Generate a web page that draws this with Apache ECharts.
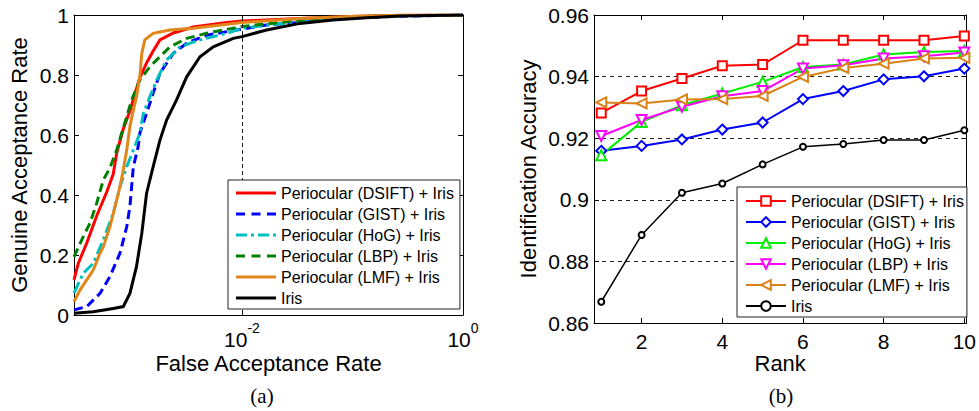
<!DOCTYPE html>
<html>
<head>
<meta charset="utf-8">
<script src="https://cdn.jsdelivr.net/npm/echarts@6/dist/echarts.min.js"></script>
<style>
  html, body { margin: 0; padding: 0; background: #fff; }
  #chart { width: 979px; height: 411px; }
</style>
</head>
<body>
<div id="chart"></div>
<script>
// ---------- (a) ROC curves: [false acceptance rate, genuine acceptance rate] ----------
const rocDSIFT = [
  [3.02e-4, 0.117], [3.30e-4, 0.172], [3.94e-4, 0.24], [4.84e-4, 0.33], [5.97e-4, 0.41],
  [6.84e-4, 0.47], [7.35e-4, 0.54], [8.43e-4, 0.62], [9.68e-4, 0.68], [1.08e-3, 0.74],
  [1.19e-3, 0.79], [1.37e-3, 0.84], [1.57e-3, 0.88], [1.81e-3, 0.917], [2.39e-3, 0.94],
  [3.62e-3, 0.96], [7.28e-3, 0.975], [1.0e-2, 0.98], [3.35e-2, 0.988], [9.49e-2, 0.995],
  [0.269, 0.999], [1, 1]
];
const rocGIST = [
  [3.02e-4, 0.017], [3.94e-4, 0.028], [5.19e-4, 0.072], [6.38e-4, 0.128], [7.87e-4, 0.206],
  [9.06e-4, 0.294], [9.68e-4, 0.361], [1.04e-3, 0.494], [1.15e-3, 0.561], [1.19e-3, 0.606],
  [1.37e-3, 0.672], [1.57e-3, 0.739], [1.81e-3, 0.806], [2.39e-3, 0.872], [3.16e-3, 0.906],
  [4.80e-3, 0.933], [1.0e-2, 0.953], [1.67e-2, 0.967], [3.35e-2, 0.975], [9.49e-2, 0.99],
  [0.269, 0.996], [1, 1]
];
const rocHoG = [
  [3.02e-4, 0.073], [3.66e-4, 0.139], [4.51e-4, 0.172], [5.56e-4, 0.25], [6.84e-4, 0.339],
  [7.87e-4, 0.428], [9.06e-4, 0.494], [1.04e-3, 0.55], [1.19e-3, 0.606], [1.28e-3, 0.672],
  [1.47e-3, 0.728], [1.69e-3, 0.783], [2.08e-3, 0.85], [2.75e-3, 0.894], [4.17e-3, 0.917],
  [7.28e-3, 0.939], [1.0e-2, 0.956], [3.35e-2, 0.978], [9.49e-2, 0.99], [0.269, 0.997], [1, 1]
];
const rocLBP = [
  [3.02e-4, 0.194], [3.66e-4, 0.261], [4.21e-4, 0.306], [4.84e-4, 0.372], [5.56e-4, 0.45],
  [6.38e-4, 0.49], [7.35e-4, 0.55], [8.15e-4, 0.606], [9.06e-4, 0.661], [1.005e-3, 0.717],
  [1.19e-3, 0.783], [1.47e-3, 0.828], [1.81e-3, 0.861], [2.23e-3, 0.894], [3.16e-3, 0.922],
  [4.80e-3, 0.939], [1.0e-2, 0.962], [3.35e-2, 0.982], [9.49e-2, 0.993], [0.269, 0.998], [1, 1]
];
const rocLMF = [
  [3.02e-4, 0.044], [3.42e-4, 0.083], [3.94e-4, 0.117], [4.51e-4, 0.15], [5.19e-4, 0.206],
  [5.56e-4, 0.227], [6.38e-4, 0.294], [7.10e-4, 0.361], [7.87e-4, 0.428], [8.43e-4, 0.483],
  [9.06e-4, 0.55], [9.68e-4, 0.628], [1.04e-3, 0.683], [1.11e-3, 0.728], [1.19e-3, 0.794],
  [1.24e-3, 0.872], [1.32e-3, 0.917], [1.57e-3, 0.939], [2.23e-3, 0.95], [3.62e-3, 0.956],
  [1.0e-2, 0.975], [3.35e-2, 0.988], [9.49e-2, 0.995], [0.269, 0.999], [1, 1]
];
const rocIris = [
  [3.02e-4, 0.006], [4.51e-4, 0.011], [6.84e-4, 0.022], [8.43e-4, 0.028], [9.68e-4, 0.072],
  [1.11e-3, 0.161], [1.24e-3, 0.272], [1.37e-3, 0.406], [1.57e-3, 0.494], [1.81e-3, 0.583],
  [2.08e-3, 0.65], [2.56e-3, 0.717], [3.16e-3, 0.794], [4.17e-3, 0.861], [5.50e-3, 0.894],
  [8.34e-3, 0.922], [1.0e-2, 0.928], [1.67e-2, 0.95], [3.35e-2, 0.972], [6.67e-2, 0.983],
  [0.134, 0.991], [0.269, 0.997], [1, 1]
];

// ---------- (b) CMC curves: identification accuracy per rank ----------
const ranks = [1, 2, 3, 4, 5, 6, 7, 8, 9, 10];
const cmcDSIFT = [0.9282, 0.9353, 0.9394, 0.9435, 0.9439, 0.9518, 0.9518, 0.9518, 0.9518, 0.9532];
const cmcGIST  = [0.9159, 0.9175, 0.9196, 0.9228, 0.9251, 0.9327, 0.9353, 0.9391, 0.9401, 0.9426];
const cmcHoG   = [0.9145, 0.9253, 0.9307, 0.9345, 0.9383, 0.9431, 0.9439, 0.9472, 0.9480, 0.9483];
const cmcLBP   = [0.9207, 0.9259, 0.9302, 0.9336, 0.9353, 0.9426, 0.9437, 0.9459, 0.9466, 0.9478];
const cmcLMF   = [0.9316, 0.9313, 0.9326, 0.9327, 0.9337, 0.9399, 0.9428, 0.9442, 0.9459, 0.9461];
const cmcIris  = [0.8669, 0.8886, 0.9023, 0.9053, 0.9115, 0.9172, 0.9181, 0.9194, 0.9194, 0.9226];

// ---------- labels ----------
const methodNames = [
  'Periocular (DSIFT) + Iris',
  'Periocular (GIST) + Iris',
  'Periocular (HoG) + Iris',
  'Periocular (LBP) + Iris',
  'Periocular (LMF) + Iris',
  'Iris'
];
const rocTicks = [0.01, 1];
const rankTicks = [2, 4, 6, 8, 10];

const FONT = 'Liberation Sans, Arial, Helvetica, sans-serif';
const SERIF = 'Liberation Serif, Times New Roman, serif';
const INK = '#000';

// ROC line styles
const rocColors = ['#ff0000', '#0000ff', '#00bfbf', '#008000', '#e0861a', '#000000'];
const rocDash = ['solid', [9, 5], [12, 4, 3, 4], [9, 5], 'solid', 'solid'];
// legend swatches for the ROC panel (thin bars, dashed where the curve is dashed)
const rocIcons = [
  'path://M0,0H40V3H0Z',
  'path://M0,0h9v3h-9z M15.5,0h9v3h-9z M31,0h9v3h-9z',
  'path://M0,0h11v3h-11z M15,0h3v3h-3z M22,0h11v3h-11z M37,0h3v3h-3z',
  'path://M0,0h9v3h-9z M15.5,0h9v3h-9z M31,0h9v3h-9z',
  'path://M0,0H40V3H0Z',
  'path://M0,0H40V3H0Z'
];

// CMC marker styles
const cmcColors = ['#ff0000', '#0000ff', '#00ee00', '#ff00ff', '#d98218', '#000000'];
const cmcSymbols = ['emptyRect', 'emptyDiamond', 'emptyTriangle', 'emptyTriangle', 'emptyTriangle', 'emptyCircle'];
const cmcRotate = [0, 0, 0, 180, 90, 0];
const cmcSizes = [9, 10, 10, 10, 10, 6];
const cmcWidths = [2, 2, 2, 2, 2, 1.5];

const rocSeriesData = [rocDSIFT, rocGIST, rocHoG, rocLBP, rocLMF, rocIris];
const cmcSeriesData = [cmcDSIFT, cmcGIST, cmcHoG, cmcLBP, cmcLMF, cmcIris];

const CMC_KEY = 'cmc|';
const stripKey = n => n.replace(CMC_KEY, '');

const tickLabel = { color: INK, fontFamily: FONT, fontSize: 21, lineHeight: 21 };
const nameStyle = { fontFamily: FONT, fontSize: 22, color: INK, lineHeight: 22 };

function frameAxis(extra) {
  return Object.assign({
    axisLine: { show: true, onZero: false, lineStyle: { color: INK, width: 1 } },
    axisTick: { show: true, inside: true, length: 5, lineStyle: { color: INK } },
    splitLine: { show: false },
    axisLabel: { show: false },
    nameMoveOverlap: false
  }, extra);
}

const rocSeries = rocSeriesData.map((d, i) => ({
  name: methodNames[i],
  type: 'line',
  xAxisIndex: 0,
  yAxisIndex: 0,
  data: d,
  symbol: 'none',
  showSymbol: false,
  silent: true,
  lineStyle: { color: rocColors[i], width: 3, type: rocDash[i], cap: 'butt', join: 'miter' },
  itemStyle: { color: rocColors[i] },
  markLine: i === 0 ? {
    silent: true,
    symbol: 'none',
    label: { show: false },
    lineStyle: { color: '#222', width: 1, type: [4, 3] },
    data: [{ xAxis: 0.01 }]
  } : undefined,
  z: 2
}));

const cmcSeries = cmcSeriesData.map((d, i) => ({
  name: CMC_KEY + methodNames[i],
  type: 'line',
  xAxisIndex: 2,
  yAxisIndex: 2,
  data: ranks.map((r, k) => [r, d[k]]),
  symbol: cmcSymbols[i],
  symbolSize: cmcSizes[i],
  symbolRotate: cmcRotate[i],
  showAllSymbol: true,
  silent: true,
  lineStyle: { color: cmcColors[i], width: cmcWidths[i] },
  itemStyle: { color: cmcColors[i], borderWidth: 1.5 },
  z: 2
}));

const option = {
  animation: false,
  backgroundColor: '#fff',
  textStyle: { fontFamily: FONT, color: INK },
  grid: [
    { left: 74, top: 15, width: 389, height: 300, containLabel: false },
    { left: 594, top: 15, width: 374, height: 308, containLabel: false }
  ],
  xAxis: [
    frameAxis({
      type: 'log', logBase: 10, gridIndex: 0, position: 'bottom',
      min: 3.02e-4, max: 1,
      axisTick: { show: true, inside: true, length: 5, lineStyle: { color: INK }, customValues: rocTicks },
      axisLabel: {
        show: true, margin: 6, customValues: rocTicks,
        formatter: v => '{b|10}{s|' + Math.round(Math.log10(v)) + '}',
        rich: {
          // base "10" pushed down by its top padding, exponent sits at the top of the line
          b: { fontFamily: FONT, fontSize: 21, color: INK, lineHeight: 22, verticalAlign: 'top', padding: [8, 0, 0, 0] },
          s: { fontFamily: FONT, fontSize: 14, color: INK, lineHeight: 14, verticalAlign: 'top' }
        }
      },
      name: 'False Acceptance Rate', nameLocation: 'middle', nameGap: 37,
      nameTextStyle: nameStyle
    }),
    frameAxis({
      type: 'log', logBase: 10, gridIndex: 0, position: 'top',
      min: 3.02e-4, max: 1,
      axisTick: { show: true, inside: true, length: 5, lineStyle: { color: INK }, customValues: rocTicks }
    }),
    frameAxis({
      type: 'value', gridIndex: 1, position: 'bottom',
      min: 0.82, max: 10.05,
      axisTick: { show: true, inside: true, length: 5, lineStyle: { color: INK }, customValues: rankTicks },
      axisLabel: Object.assign({ show: true, margin: 8, customValues: rankTicks }, tickLabel),
      name: 'Rank', nameLocation: 'middle', nameGap: 29,
      nameTextStyle: nameStyle
    }),
    frameAxis({
      type: 'value', gridIndex: 1, position: 'top',
      min: 0.82, max: 10.05,
      axisTick: { show: true, inside: true, length: 5, lineStyle: { color: INK }, customValues: rankTicks }
    })
  ],
  yAxis: [
    frameAxis({
      type: 'value', gridIndex: 0, position: 'left',
      min: 0, max: 1, interval: 0.2,
      axisLabel: Object.assign({ show: true, margin: 5 }, tickLabel),
      name: 'Genuine Acceptance Rate', nameLocation: 'middle', nameGap: 44,
      nameTextStyle: nameStyle
    }),
    frameAxis({
      type: 'value', gridIndex: 0, position: 'right',
      min: 0, max: 1, interval: 0.2
    }),
    frameAxis({
      type: 'value', gridIndex: 1, position: 'left',
      min: 0.86, max: 0.96, interval: 0.02,
      splitLine: { show: true, lineStyle: { color: '#222', width: 1, type: [4, 4] } },
      axisLabel: Object.assign({ show: true, margin: 5 }, tickLabel),
      name: 'Identification Accuracy', nameLocation: 'middle', nameGap: 55,
      nameTextStyle: nameStyle
    }),
    frameAxis({
      type: 'value', gridIndex: 1, position: 'right',
      min: 0.86, max: 0.96, interval: 0.02
    })
  ],
  legend: [
    {
      orient: 'vertical', left: 228, top: 180,
      padding: [4, 6, 2, 8],
      itemWidth: 40, itemHeight: 3, itemGap: 3,
      selectedMode: false,
      backgroundColor: '#fff', borderColor: '#222', borderWidth: 1,
      textStyle: { fontFamily: FONT, fontSize: 16, color: INK, lineHeight: 18 },
      data: methodNames.map((n, i) => ({
        name: n, icon: rocIcons[i],
        itemStyle: { color: rocColors[i], borderWidth: 0 }
      })),
      z: 10
    },
    {
      orient: 'vertical', left: 737, top: 187,
      padding: [5, 3, 2, 8],
      itemWidth: 40, itemHeight: 12, itemGap: 3,
      selectedMode: false,
      backgroundColor: '#fff', borderColor: '#222', borderWidth: 1,
      textStyle: { fontFamily: FONT, fontSize: 16, color: INK, lineHeight: 18 },
      formatter: stripKey,
      data: methodNames.map(n => CMC_KEY + n),
      z: 10
    }
  ],
  graphic: [
    { type: 'text', x: 262, y: 396, style: { text: '(a)', fontFamily: SERIF, fontSize: 21, fill: INK, align: 'center', verticalAlign: 'middle' } },
    { type: 'text', x: 781, y: 396, style: { text: '(b)', fontFamily: SERIF, fontSize: 21, fill: INK, align: 'center', verticalAlign: 'middle' } }
  ],
  series: rocSeries.concat(cmcSeries)
};

const chart = echarts.init(document.getElementById('chart'), null, { renderer: 'svg' });
chart.setOption(option);
</script>
</body>
</html>
